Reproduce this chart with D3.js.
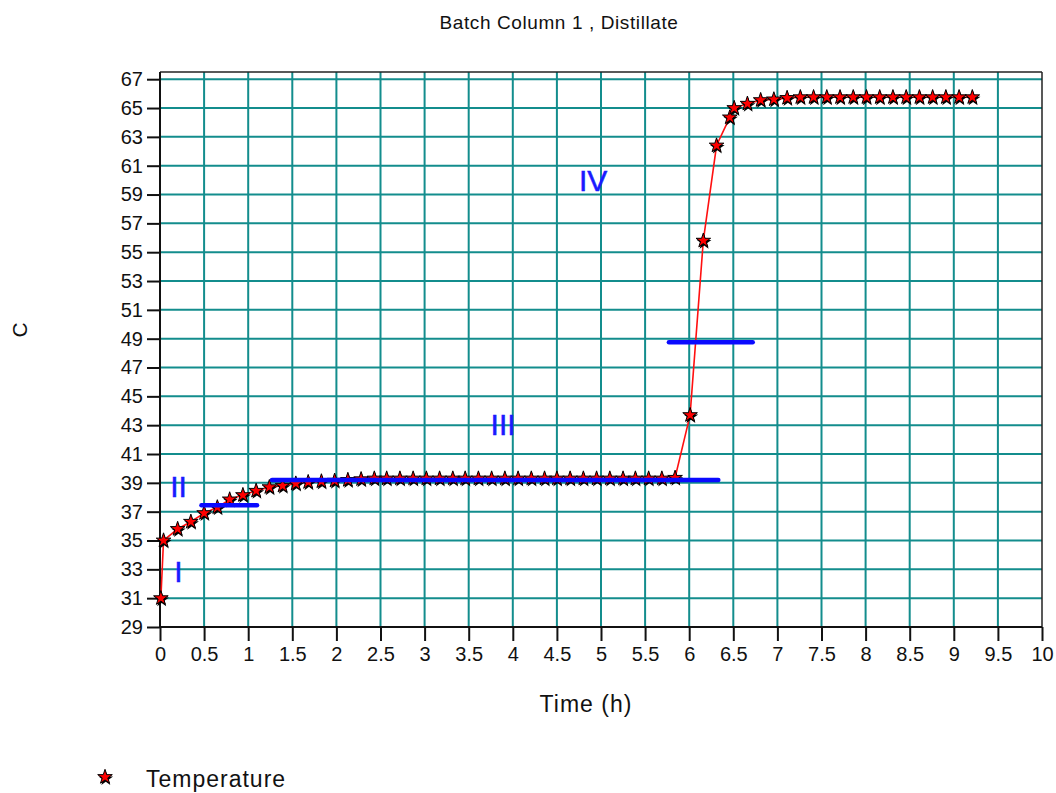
<!DOCTYPE html>
<html>
<head>
<meta charset="utf-8">
<script src="https://cdn.jsdelivr.net/npm/d3@7"></script>
<style>
  html, body { margin: 0; padding: 0; background: #ffffff; }
  svg { display: block; }
  text { font-family: "Liberation Sans", Arial, sans-serif; }
</style>
</head>
<body>
<svg id="chart" width="1056" height="793"></svg>
<script>
// ---- data ----
const timeH = [0.01, 0.04, 0.20, 0.35, 0.50, 0.65, 0.79, 0.94, 1.09, 1.24,
  1.39, 1.54, 1.68, 1.83, 1.98, 2.13, 2.28,
  2.43, 2.57, 2.72, 2.87, 3.02, 3.17, 3.32, 3.46, 3.61, 3.76, 3.91, 4.06,
  4.21, 4.36, 4.50, 4.65, 4.80, 4.95, 5.10, 5.25, 5.39, 5.54, 5.69, 5.84,
  6.01, 6.16, 6.31, 6.46, 6.51,
  6.66, 6.81, 6.96, 7.11,
  7.26, 7.41, 7.56, 7.71, 7.86, 8.01, 8.16, 8.31, 8.46, 8.61, 8.76, 8.91, 9.06, 9.21];
const tempC = [31.0, 35.0, 35.8, 36.3, 36.9, 37.3, 37.85, 38.15, 38.45, 38.7,
  38.8, 38.95, 39.05, 39.1, 39.15, 39.2, 39.25,
  39.3, 39.3, 39.3, 39.3, 39.3, 39.3, 39.3, 39.3, 39.3, 39.3, 39.3, 39.3,
  39.3, 39.3, 39.3, 39.3, 39.3, 39.3, 39.3, 39.3, 39.3, 39.3, 39.3, 39.35,
  43.7, 55.8, 62.4, 64.35, 65.0,
  65.3, 65.55, 65.6, 65.7,
  65.75, 65.75, 65.75, 65.75, 65.75, 65.75, 65.75, 65.75, 65.75, 65.75, 65.75, 65.75, 65.75, 65.75];

const xTicks = [0, 0.5, 1, 1.5, 2, 2.5, 3, 3.5, 4, 4.5, 5, 5.5, 6, 6.5, 7, 7.5, 8, 8.5, 9, 9.5, 10];
const yTicks = [29, 31, 33, 35, 37, 39, 41, 43, 45, 47, 49, 51, 53, 55, 57, 59, 61, 63, 65, 67];

// horizontal level markers (blue bars)
const levelTemp  = [37.45, 39.2, 48.75];
const levelStart = [0.47, 1.27, 5.77];
const levelEnd   = [1.10, 6.33, 6.72];

// region annotations
const regionLabels = ["I", "II", "III", "IV"];
const regionTime   = [0.21, 0.21, 3.89, 4.91];
const regionTemp   = [32.85, 38.75, 43.05, 60.0];

const titleText = "Batch Column 1 , Distillate";
const xLabel = "Time (h)";
const yLabel = "C";
const seriesName = "Temperature";

// ---- layout ----
const svg = d3.select("#chart");
const pL = 160, pR = 1042, pT = 72, pB = 627;
const x = d3.scaleLinear().domain([0, 10]).range([pL, pR]);
const y = d3.scaleLinear().domain([29, 67.5]).range([pB, pT]);

const gridColor = "#138d8d";

// grid
svg.append("g").selectAll("line")
  .data(xTicks.filter(t => t > 0 && t < 10))
  .join("line")
  .attr("x1", d => x(d)).attr("x2", d => x(d))
  .attr("y1", pT).attr("y2", pB)
  .attr("stroke", gridColor).attr("stroke-width", 2);
svg.append("g").selectAll("line")
  .data(yTicks.filter(t => t > 29))
  .join("line")
  .attr("x1", pL).attr("x2", pR)
  .attr("y1", d => y(d)).attr("y2", d => y(d))
  .attr("stroke", gridColor).attr("stroke-width", 2);

// frame top/right
svg.append("line").attr("x1", pL).attr("x2", pR).attr("y1", pT).attr("y2", pT)
  .attr("stroke", "#222").attr("stroke-width", 1.5);
svg.append("line").attr("x1", pR).attr("x2", pR).attr("y1", pT).attr("y2", pB)
  .attr("stroke", "#222").attr("stroke-width", 1.5);

// axes
const xAxis = d3.axisBottom(x).tickValues(xTicks).tickSize(14).tickPadding(6)
  .tickFormat(d => String(d));
const gx = svg.append("g").attr("transform", `translate(0,${pB})`).call(xAxis);
const yAxis = d3.axisLeft(y).tickValues(yTicks).tickSize(13).tickPadding(4)
  .tickFormat(d => String(d));
const gy = svg.append("g").attr("transform", `translate(${pL},0)`).call(yAxis);
[gx, gy].forEach(g => {
  g.select(".domain").attr("stroke", "#111").attr("stroke-width", 2);
  g.selectAll(".tick line").attr("stroke", "#111").attr("stroke-width", 2);
  g.selectAll(".tick text").attr("fill", "#111").style("font-size", "20px")
    .style("font-family", "'Liberation Sans', Arial, sans-serif");
});
gy.select(".domain").attr("d", `M0,${pT}V${pB}`);
gx.select(".domain").attr("d", `M${pL},0H${pR}`);

// title & axis labels
svg.append("text").attr("x", 559).attr("y", 29).attr("text-anchor", "middle")
  .style("font-size", "19px").style("letter-spacing", "0.6px").attr("fill", "#111").text(titleText);
svg.append("text").attr("x", 586).attr("y", 712).attr("text-anchor", "middle")
  .style("font-size", "23px").style("letter-spacing", "1px").attr("fill", "#111").text(xLabel);
svg.append("text").attr("transform", "translate(27,330) rotate(-90)")
  .attr("text-anchor", "middle").style("font-size", "21px").attr("fill", "#111").text(yLabel);

// series line
const pts = timeH.map((t, i) => [t, tempC[i]]);
svg.append("path").datum(pts)
  .attr("d", d3.line().x(d => x(d[0])).y(d => y(d[1])))
  .attr("fill", "none").attr("stroke", "#ff1010").attr("stroke-width", 1.6);

// markers
const star = d3.symbol(d3.symbolStar).size(66);
const mk = svg.append("g");
mk.append("g").selectAll("path").data(pts).join("path")
  .attr("d", star)
  .attr("transform", d => `translate(${x(d[0]) + 0.8},${y(d[1]) + 1.8})`)
  .attr("fill", "#000");
mk.append("g").selectAll("path").data(pts).join("path")
  .attr("d", star)
  .attr("transform", d => `translate(${x(d[0])},${y(d[1])})`)
  .attr("fill", "#ff0000").attr("stroke", "#000").attr("stroke-width", 1);

// blue level bars
svg.append("g").selectAll("line").data(levelTemp).join("line")
  .attr("x1", (d, i) => x(levelStart[i])).attr("x2", (d, i) => x(levelEnd[i]))
  .attr("y1", d => y(d)).attr("y2", d => y(d))
  .attr("stroke", "#0a0aff").attr("stroke-width", 4.5).attr("stroke-linecap", "round");

// region labels
svg.append("g").selectAll("text").data(regionLabels).join("text")
  .attr("x", (d, i) => x(regionTime[i])).attr("y", (d, i) => y(regionTemp[i]))
  .attr("text-anchor", "middle").attr("dominant-baseline", "central")
  .style("font-size", "30px").attr("fill", "#1a1aff")
  .attr("stroke", "#1a1aff").attr("stroke-width", 0.5).text(d => d);

// legend
svg.append("path").attr("d", star).attr("transform", "translate(105.8,778.8)").attr("fill", "#000");
svg.append("path").attr("d", star).attr("transform", "translate(105,777)")
  .attr("fill", "#ff0000").attr("stroke", "#000").attr("stroke-width", 1);
svg.append("text").attr("x", 146).attr("y", 787).style("font-size", "23px")
  .style("letter-spacing", "1px").attr("fill", "#111").text(seriesName);
</script>
</body>
</html>
